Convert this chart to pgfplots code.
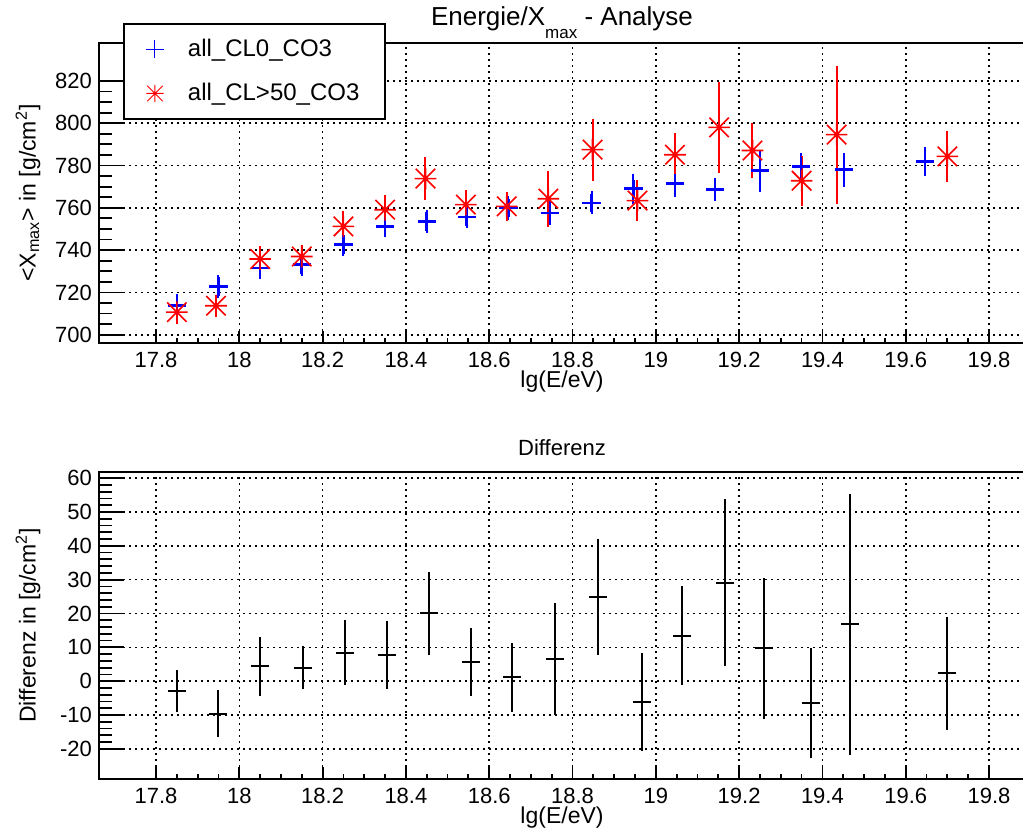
\documentclass[border=0pt]{standalone}
\usepackage{fontspec}
\setmainfont{Liberation Sans}
\usepackage{pgfplots}
\pgfplotsset{compat=1.18}

% eight-armed star: a plus and a cross drawn together
\pgfdeclareplotmark{rootstar}{%
  \pgfpathmoveto{\pgfqpoint{-\pgfplotmarksize}{0pt}}%
  \pgfpathlineto{\pgfqpoint{\pgfplotmarksize}{0pt}}%
  \pgfpathmoveto{\pgfqpoint{0pt}{-\pgfplotmarksize}}%
  \pgfpathlineto{\pgfqpoint{0pt}{\pgfplotmarksize}}%
  \pgfpathmoveto{\pgfqpoint{-0.9\pgfplotmarksize}{-0.9\pgfplotmarksize}}%
  \pgfpathlineto{\pgfqpoint{0.9\pgfplotmarksize}{0.9\pgfplotmarksize}}%
  \pgfpathmoveto{\pgfqpoint{-0.9\pgfplotmarksize}{0.9\pgfplotmarksize}}%
  \pgfpathlineto{\pgfqpoint{0.9\pgfplotmarksize}{-0.9\pgfplotmarksize}}%
  \pgfusepathqstroke}

\pgfplotsset{
  frame/.style={
    scale only axis, width=463pt, anchor=south west,
    xmin=17.6631, xmax=19.8864,
    xtick={17.8,18,18.2,18.4,18.6,18.8,19,19.2,19.4,19.6,19.8},
    minor x tick num=3,
    tick pos=left, tick align=inside,
    axis line style={line width=1.1pt},
    every tick/.style={black, line width=0.9pt},
    major tick length=12.5pt, minor tick length=6.3pt,
    x tick style={/pgfplots/major tick length=5.8pt, /pgfplots/minor tick length=2.5pt},
    grid=major,
    major grid style={black, line width=0.8pt, dash pattern=on 0.8pt off 2.2pt},
    /pgf/number format/assume math mode=true,
    tick label style={font=\fontsize{11}{13}\selectfont},
    xticklabel style={yshift=-1pt},
    label style={font=\fontsize{11.5}{13}\selectfont},
    xlabel={lg(E/eV)},
    xlabel style={at={(axis description cs:0.5,0)}, anchor=center, yshift=-19.5pt},
    ylabel style={at={(axis description cs:-0.0767,0.5)}, anchor=center},
    clip=false,
  },
}

\begin{document}
\begin{tikzpicture}
\useasboundingbox (0,0) rectangle (511.5pt,416pt);

% upper panel: mean depth of shower maximum per energy bin
\begin{axis}[frame, at={(49.5pt,244.5pt)}, height=150pt,
  ymin=696.1, ymax=837.9,
  ytick={700,720,740,760,780,800,820}, minor y tick num=3,
  ylabel={<X\textsubscript{max}> in [g/cm\textsuperscript{2}]},
  title={Energie/X\raisebox{-6.3pt}{\fontsize{8.5}{9}\selectfont max} - Analyse},
  title style={at={(axis description cs:0.5,1)}, anchor=base, yshift=2.65pt,
    font=\fontsize{13}{15}\selectfont},
  legend style={at={(axis description cs:0.0259,1.0667)}, anchor=north west,
    draw=black, line width=1pt, fill=white, font=\fontsize{12}{14}\selectfont,
    inner xsep=11pt, inner ysep=5.5pt, row sep=7.5pt, column sep=10pt,
    nodes={text height=9pt, text depth=1.5pt},
    cells={anchor=west}},
  legend cell align=left,
]
\addlegendimage{only marks, blue, mark=+, mark size=4.5pt, line width=0.5pt}
\addlegendentry{all\_CL0\_CO3\hspace{12pt}}
\addlegendimage{only marks, red, mark=rootstar, mark size=4.3pt, line width=0.5pt}
\addlegendentry{all\_CL>50\_CO3\hspace{12pt}}

\addplot[forget plot, only marks, blue, mark=+, mark size=4.6pt,
  mark options={line width=1.3pt},
  error bars/.cd, y dir=both, y explicit, error mark=-,
  error bar style={line width=1pt, blue},
  error mark options={mark size=1.6pt, line width=1pt, blue}]
coordinates {
  (17.85,713.9) +- (0,4.0)
  (17.95,722.8) +- (0,3.8)
  (18.05,731.5) +- (0,3.7)
  (18.15,733.1) +- (0,4.0)
  (18.25,742.6) +- (0,3.8)
  (18.35,751.2) +- (0,3.7)
  (18.45,753.6) +- (0,3.9)
  (18.546,755.6) +- (0,3.7)
  (18.646,759.9) +- (0,4.1)
  (18.746,757.5) +- (0,4.1)
  (18.846,762.3) +- (0,3.9)
  (18.946,769.0) +- (0,5.7)
  (19.046,771.4) +- (0,5.0)
  (19.142,768.6) +- (0,3.9)
  (19.250,777.5) +- (0,8.4)
  (19.349,779.6) +- (0,4.9)
  (19.452,778.0) +- (0,6.5)
  (19.646,781.9) +- (0,5.5)
};

\addplot[forget plot, only marks, red, mark=rootstar, mark size=5.4pt,
  mark options={line width=0.8pt},
  error bars/.cd, y dir=both, y explicit, error mark=-,
  error bar style={line width=1pt, red},
  error mark options={mark size=1.6pt, line width=1pt, red}]
coordinates {
  (17.85,710.7) +- (0,4.0)
  (17.944,713.7) +- (0,3.8)
  (18.05,735.8) +- (0,4.7)
  (18.15,737.0) +- (0,3.8)
  (18.25,751.2) +- (0,6.0)
  (18.35,759.1) +- (0,5.3)
  (18.447,773.8) +- (0,8.7)
  (18.544,761.5) +- (0,5.5)
  (18.642,760.7) +- (0,5.3)
  (18.742,764.3) +- (0,11.7)
  (18.848,787.5) +- (0,13.1)
  (18.956,763.4) +- (0,8.0)
  (19.046,785.1) +- (0,8.7)
  (19.152,798.0) +- (0,20.0)
  (19.232,787.1) +- (0,11.4)
  (19.350,772.8) +- (0,10.3)
  (19.434,794.6) +- (0,31.1)
  (19.700,784.3) +- (0,10.4)
};
\end{axis}

% lower panel: difference of the two selections
\begin{axis}[frame, at={(49.5pt,26.5pt)}, height=153.5pt,
  ymin=-28.9, ymax=61.8,
  ytick={-20,-10,0,10,20,30,40,50,60}, minor y tick num=4,
  ylabel={Differenz in [g/cm\textsuperscript{2}]},
  title={Differenz},
  title style={at={(axis description cs:0.5,1)}, anchor=base, yshift=2.5pt,
    font=\fontsize{11}{13}\selectfont},
]
\addplot[only marks, black, mark=-, mark size=4.5pt,
  mark options={line width=1pt},
  error bars/.cd, y dir=both, y explicit, error mark=-,
  error bar style={line width=1pt, black},
  error mark options={mark size=1.6pt, line width=1pt, black}]
coordinates {
  (17.85,-3.0) +- (0,5.3)
  (17.95,-9.6) +- (0,6.0)
  (18.05,4.4) +- (0,7.7)
  (18.154,4.0) +- (0,5.5)
  (18.254,8.4) +- (0,8.7)
  (18.355,7.7) +- (0,9.1)
  (18.456,20.0) +- (0,11.3)
  (18.556,5.7) +- (0,9.0)
  (18.655,1.1) +- (0,9.2)
  (18.758,6.6) +- (0,15.7)
  (18.86,25.0) +- (0,16.2)
  (18.966,-6.1) +- (0,13.6)
  (19.064,13.4) +- (0,13.7)
  (19.166,29.1) +- (0,23.7)
  (19.26,9.7) +- (0,19.8)
  (19.372,-6.4) +- (0,15.3)
  (19.466,16.8) +- (0,37.6)
  (19.70,2.3) +- (0,15.7)
};
\end{axis}
\end{tikzpicture}
\end{document}
